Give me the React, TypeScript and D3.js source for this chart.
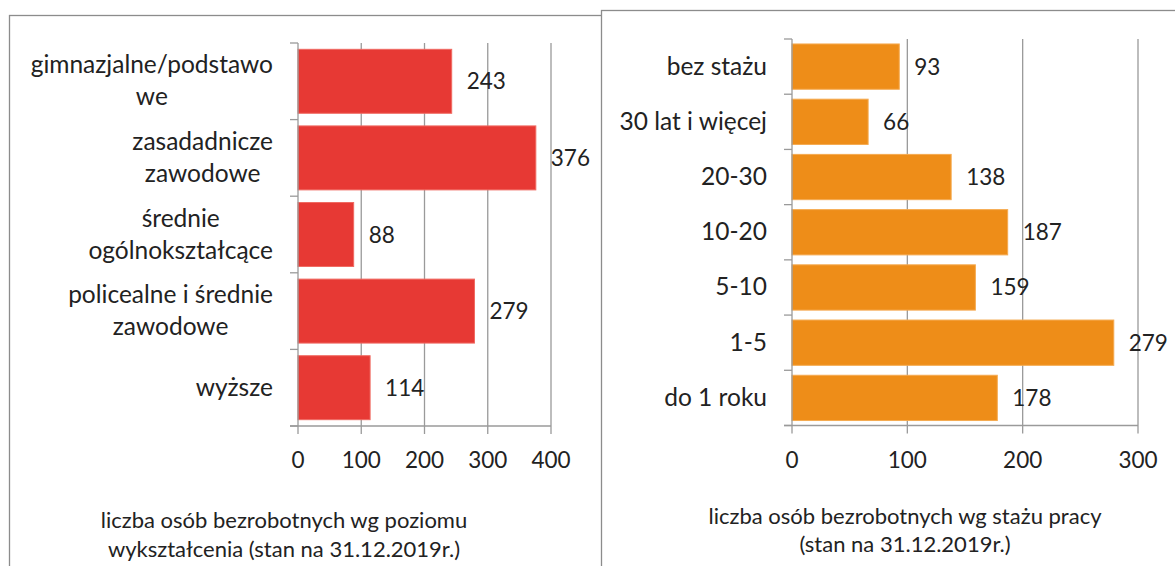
import React, { useEffect, useRef } from "react";
import * as d3 from "d3";

// ---- data ----
const EDU_LABELS: string[][] = [
  ["gimnazjalne/podstawo", "we"],
  ["zasadadnicze", "zawodowe"],
  ["średnie", "ogólnokształcące"],
  ["policealne i średnie", "zawodowe"],
  ["wyższe"],
];
const EDU_VALUES = [243, 376, 88, 279, 114];
const EDU_TICKS = [0, 100, 200, 300, 400];
const EDU_TITLE = ["liczba osób bezrobotnych wg poziomu", "wykształcenia (stan na 31.12.2019r.)"];

const STAZ_LABELS: string[][] = [
  ["bez stażu"],
  ["30 lat i więcej"],
  ["20-30"],
  ["10-20"],
  ["5-10"],
  ["1-5"],
  ["do 1 roku"],
];
const STAZ_VALUES = [93, 66, 138, 187, 159, 279, 178];
const STAZ_TICKS = [0, 100, 200, 300];
const STAZ_TITLE = ["liczba osób bezrobotnych wg stażu pracy", "(stan na 31.12.2019r.)"];

const FONT = "Lato, 'Open Sans', sans-serif";
const GRID = "#9a9a9a";
const BORDER = "#8c8c8c";

type PanelCfg = {
  labels: string[][];
  values: number[];
  ticks: number[];
  color: string;
  stroke: string;
  xRange: [number, number];
  yRange: [number, number];
  padInner: number;
  labelRight: number;
  title: string[];
  titleCx: number;
  titleY: [number, number];
  lineH: number;
};

function drawPanel(root: d3.Selection<SVGGElement, unknown, null, undefined>, c: PanelCfg) {
  const g = root.append("g");
  const n = c.values.length;
  const dmax = c.ticks[c.ticks.length - 1];
  const x = d3.scaleLinear().domain([0, dmax]).range(c.xRange);
  const y = d3
    .scaleBand<number>()
    .domain(d3.range(n))
    .range(c.yRange)
    .paddingInner(c.padInner)
    .paddingOuter(c.padInner / 2);
  const [y0, y1] = c.yRange;
  const step = (y1 - y0) / n;
  const x0 = x(0);

  // gridlines
  g.selectAll("line.grid")
    .data(c.ticks.filter((t) => t > 0))
    .join("line")
    .attr("x1", (d) => x(d))
    .attr("x2", (d) => x(d))
    .attr("y1", y0)
    .attr("y2", y1 + 8)
    .attr("stroke", GRID)
    .attr("stroke-width", 1.3);

  // bars
  g.selectAll("rect.bar")
    .data(c.values)
    .join("rect")
    .attr("x", x0)
    .attr("y", (_, i) => y(i)!)
    .attr("width", (d) => x(d) - x0)
    .attr("height", y.bandwidth())
    .attr("fill", c.color)
    .attr("stroke", c.stroke)
    .attr("stroke-width", 1);

  // axes
  g.append("line")
    .attr("x1", x0).attr("x2", x0)
    .attr("y1", y0).attr("y2", y1 + 8)
    .attr("stroke", GRID).attr("stroke-width", 1.3);
  g.append("line")
    .attr("x1", x0 - 8).attr("x2", x(dmax))
    .attr("y1", y1).attr("y2", y1)
    .attr("stroke", GRID).attr("stroke-width", 1.3);
  g.selectAll("line.ctick")
    .data(d3.range(n + 1))
    .join("line")
    .attr("x1", x0 - 8)
    .attr("x2", x0)
    .attr("y1", (i) => y0 + i * step)
    .attr("y2", (i) => y0 + i * step)
    .attr("stroke", GRID)
    .attr("stroke-width", 1.3);

  // tick labels
  g.selectAll("text.tick")
    .data(c.ticks)
    .join("text")
    .attr("x", (d) => x(d))
    .attr("y", y1 + 42)
    .attr("text-anchor", "middle")
    .attr("font-family", FONT)
    .attr("font-size", 22.5)
    .attr("fill", "#222")
    .text((d) => String(d));

  // value labels
  g.selectAll("text.val")
    .data(c.values)
    .join("text")
    .attr("x", (d) => x(d) + 15)
    .attr("y", (_, i) => y(i)! + y.bandwidth() / 2 + 8)
    .attr("font-family", FONT)
    .attr("font-size", 22.5)
    .attr("fill", "#222")
    .text((d) => String(d));

  // category labels (block right-aligned, lines centred)
  c.labels.forEach((lines, i) => {
    const cy = y0 + (i + 0.5) * step;
    const tg = g.append("g");
    const texts = lines.map((line, k) =>
      tg
        .append("text")
        .attr("y", cy + (k - (lines.length - 1) / 2) * c.lineH + 8)
        .attr("font-family", FONT)
        .attr("font-size", 24.5)
        .attr("fill", "#222")
        .attr("text-anchor", "middle")
        .text(line)
    );
    const widths = texts.map((t) => (t.node() as SVGTextElement).getComputedTextLength());
    const w = Math.max(...widths);
    texts.forEach((t) => t.attr("x", c.labelRight - w / 2));
  });

  // title
  c.title.forEach((line, k) => {
    g.append("text")
      .attr("x", c.titleCx)
      .attr("y", c.titleY[k])
      .attr("text-anchor", "middle")
      .attr("font-family", FONT)
      .attr("font-size", 22)
      .attr("fill", "#222")
      .text(line);
  });
}

export default function App() {
  const ref = useRef<SVGSVGElement>(null);
  useEffect(() => {
    const svg = d3.select(ref.current!);
    svg.selectAll("*").remove();
    const root = svg.append("g");
    root.append("rect").attr("width", 1175).attr("height", 566).attr("fill", "#fff");

    // left panel frame
    root.append("rect")
      .attr("x", 9.5).attr("y", 15.5).attr("width", 640).attr("height", 600)
      .attr("fill", "#fff").attr("stroke", BORDER).attr("stroke-width", 1.3);
    drawPanel(root, {
      labels: EDU_LABELS,
      values: EDU_VALUES,
      ticks: EDU_TICKS,
      color: "#E73934",
      stroke: "#F06A62",
      xRange: [298, 551],
      yRange: [43, 426],
      padInner: 0.165,
      labelRight: 273,
      title: EDU_TITLE,
      titleCx: 284,
      titleY: [528, 557],
      lineH: 32,
    });

    // right panel frame
    root.append("rect")
      .attr("x", 601.5).attr("y", 10.5).attr("width", 640).attr("height", 600)
      .attr("fill", "#fff").attr("stroke", BORDER).attr("stroke-width", 1.3);
    drawPanel(root, {
      labels: STAZ_LABELS,
      values: STAZ_VALUES,
      ticks: STAZ_TICKS,
      color: "#EE8D18",
      stroke: "#F5AA50",
      xRange: [792, 1138],
      yRange: [39, 425.5],
      padInner: 0.18,
      labelRight: 767,
      title: STAZ_TITLE,
      titleCx: 905,
      titleY: [524, 552],
      lineH: 32,
    });
  }, []);
  return (
    <svg
      ref={ref}
      width={1175}
      height={566}
      style={{ position: "absolute", left: 0, top: 0, display: "block" }}
    />
  );
}
